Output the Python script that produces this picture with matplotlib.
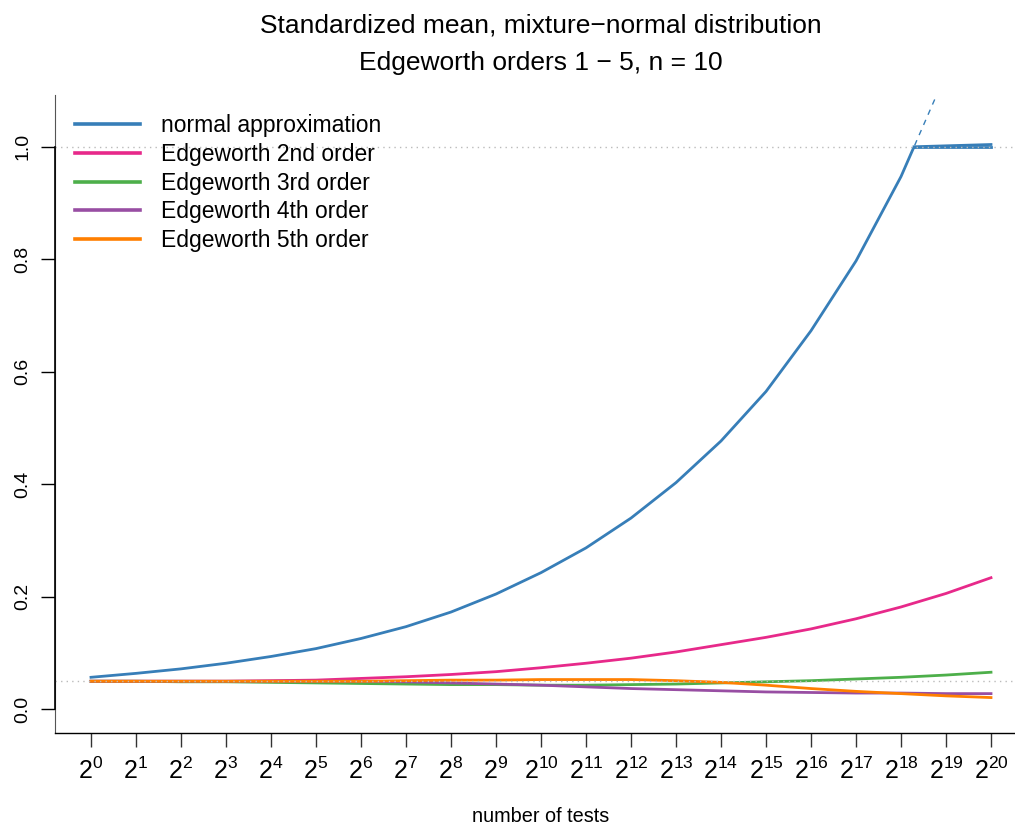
import matplotlib
matplotlib.use("Agg")
import matplotlib.pyplot as plt
from matplotlib.patches import Rectangle
import numpy as np

plt.rcParams['font.family'] = ['Liberation Sans', 'DejaVu Sans']
plt.rcParams['mathtext.fontset'] = 'custom'
plt.rcParams['mathtext.rm'] = 'Liberation Sans'
plt.rcParams['mathtext.it'] = 'Liberation Sans:italic'


# DATA: exponent k of "number of tests" = 2^k, rejection rates per approximation
exponents = [0, 1, 2, 3, 4, 5, 6, 7, 8, 9, 10, 11, 12, 13, 14, 15, 16, 17, 18, 19, 20]
normal_approx = [0.057, 0.064, 0.072, 0.082, 0.094, 0.108, 0.126, 0.147, 0.173, 0.205, 0.243,
                 0.287, 0.340, 0.403, 0.477, 0.565, 0.673, 0.797, 0.947, 1.130, 1.330]
edge2 = [0.050, 0.050, 0.050, 0.050, 0.051, 0.052, 0.055, 0.058, 0.062, 0.067, 0.074,
         0.082, 0.091, 0.102, 0.115, 0.128, 0.143, 0.161, 0.182, 0.206, 0.234]
edge3 = [0.050, 0.050, 0.049, 0.049, 0.048, 0.047, 0.046, 0.045, 0.044, 0.044, 0.043,
         0.043, 0.044, 0.045, 0.047, 0.049, 0.051, 0.054, 0.057, 0.061, 0.066]
edge4 = [0.050, 0.050, 0.050, 0.050, 0.050, 0.050, 0.050, 0.049, 0.047, 0.045, 0.043,
         0.040, 0.037, 0.035, 0.033, 0.031, 0.030, 0.029, 0.029, 0.028, 0.028]
edge5 = [0.050, 0.050, 0.050, 0.050, 0.050, 0.050, 0.050, 0.051, 0.052, 0.052, 0.053,
         0.053, 0.053, 0.051, 0.048, 0.043, 0.037, 0.032, 0.028, 0.024, 0.021]
cap_level = 1.0
cap_end = [1.0, 1.004]
ref_levels = [0.05, 1.0]
labels = ["normal approximation", "Edgeworth 2nd order", "Edgeworth 3rd order",
          "Edgeworth 4th order", "Edgeworth 5th order"]
colors = ["#377EB8", "#E7298A", "#4DAF4A", "#984EA3", "#FF7F00"]

W, H = 1015, 825
YLIM = (-0.042, 1.092)
fig = plt.figure(figsize=(W / 100, H / 100), dpi=100)
ax = fig.add_axes([55 / W, (H - 733) / H, 972 / W, 638 / H])
ax.set_xlim(-0.8, 20.8)
ax.set_ylim(*YLIM)

x = np.array(exponents)
lw = 2.0

# normal approximation: solid below the cap, dashed above it
solid, = ax.plot(x, normal_approx, color=colors[0], lw=lw, zorder=3)
solid.set_clip_path(Rectangle((-0.8, YLIM[0]), 21.6, cap_level - YLIM[0],
                              transform=ax.transData))
dash, = ax.plot(x, normal_approx, color=colors[0], lw=1.0, ls=(0, (4, 4)), zorder=3)
dash.set_clip_path(Rectangle((-0.8, cap_level), 21.6, YLIM[1] - cap_level,
                             transform=ax.transData))
xc = np.interp(cap_level, normal_approx, x)
for ce in cap_end:
    ax.plot([xc, x[-1]], [cap_level, ce], color=colors[0], lw=lw, zorder=3)

for ys, c in zip([edge2, edge3, edge4, edge5], colors[1:]):
    ax.plot(x, ys, color=c, lw=lw, zorder=3)

for lv in ref_levels:
    ax.axhline(lv, color="#BBBBBB", lw=1.0, ls=(0, (1, 3)), zorder=4)

# axes styling (R-like)
for s in ["top", "right"]:
    ax.spines[s].set_visible(False)
ax.spines["left"].set_color("#555555")
ax.spines["left"].set_linewidth(0.8)
ax.spines["bottom"].set_linewidth(1.0)
ax.plot([-0.8, -0.8], [0, 1.0], color="black", lw=1.2, clip_on=False, zorder=5)

ax.set_yticks([0.0, 0.2, 0.4, 0.6, 0.8, 1.0])
ax.set_yticklabels(["0.0", "0.2", "0.4", "0.6", "0.8", "1.0"], rotation=90, va="center")
ax.set_xticks(exponents)
ax.set_xticklabels([r"$\mathregular{2^{%d}}$" % k for k in exponents])
ax.tick_params(axis="y", length=10, width=1, labelsize=14, pad=7)
ax.tick_params(axis="x", length=10, width=1, color="#333333", labelsize=18, pad=8)

handles = [plt.Line2D([], [], color=c, lw=2.6) for c in colors]
ax.legend(handles, labels, loc="upper left", bbox_to_anchor=(0.004, 0.995),
          frameon=False, fontsize=16.5, handlelength=2.85, handletextpad=0.9,
          labelspacing=0.25, borderaxespad=0.3)

cx = (55 + 1027) / 2 / W
fig.text(cx, 1 - 25 / H, "Standardized mean, mixture\u2212normal distribution",
         ha="center", va="center", fontsize=19)
fig.text(cx, 1 - 63 / H, "Edgeworth orders 1 \u2212 5, n = 10",
         ha="center", va="center", fontsize=19)
fig.text(cx, 1 - 817 / H, "number of tests", ha="center", va="center", fontsize=14.3)

fig.savefig("out.png", dpi=100)
